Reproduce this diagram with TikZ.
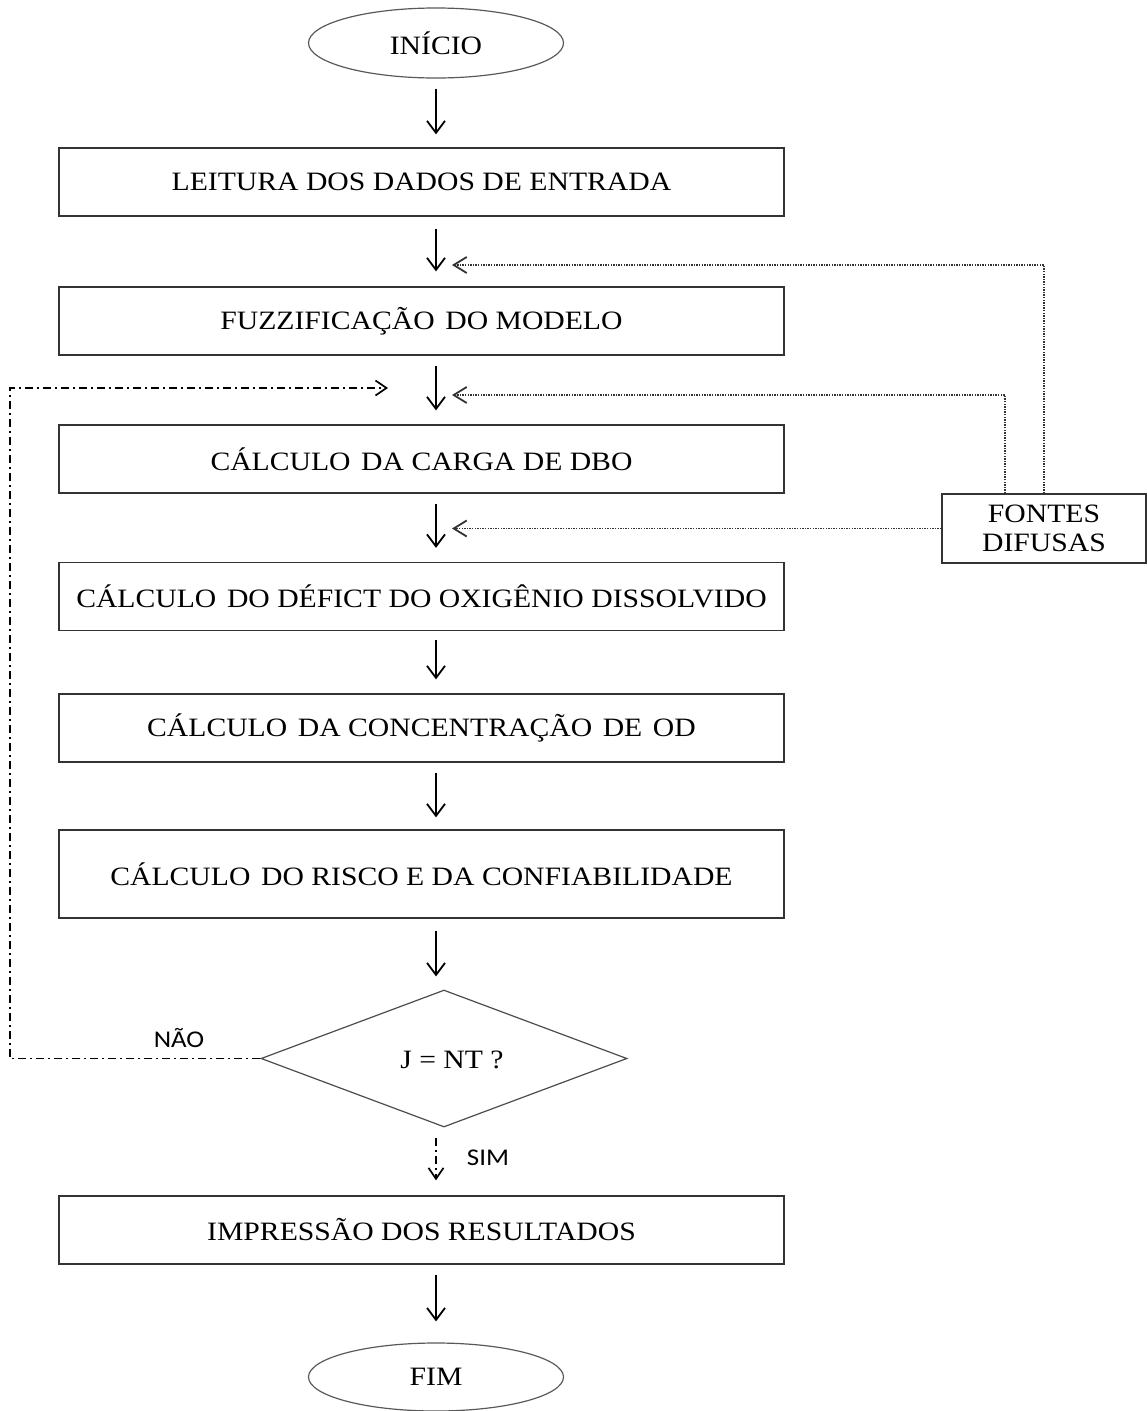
\documentclass[tikz,border=0pt]{standalone}
\usepackage{fontspec}
\setmainfont{Liberation Serif}[FakeStretch=1.12]
\newfontfamily\labelfont{Carlito}[FakeStretch=1.12]
\usetikzlibrary{arrows.meta,shapes.geometric,calc}
\newcommand{\xsp}{\hspace{0.12em}}
\begin{document}
\begin{tikzpicture}[x=1pt,y=-1pt,
  font=\fontsize{26.5}{31}\selectfont,
  boxst/.style={draw=black!80, line width=1.3pt, minimum width=725pt, minimum height=68pt, inner sep=0pt},
  termst/.style={ellipse, draw=black!65, line width=1.2pt, minimum width=255pt, minimum height=70pt, inner sep=0pt},
  decst/.style={diamond, draw=black!70, line width=1.2pt, minimum width=366pt, minimum height=137pt, inner sep=0pt},
  fontst/.style={draw=black!80, line width=1.3pt, minimum width=204pt, minimum height=69pt, inner sep=0pt, align=center},
  flow/.style={draw=black, line width=1.8pt, -{Straight Barb[length=12pt,width=18pt]}},
  dotflow/.style={draw=black!80, line width=1.1pt, dash pattern=on 1.3pt off 1.3pt, -{Straight Barb[length=13pt,width=16pt,line width=1.8pt]}},
  ddflow/.style={draw=black, line width=1.5pt, dash pattern=on 8pt off 4pt on 2pt off 4pt, -{Straight Barb[length=11pt,width=15pt,line width=1.7pt]}},
  lbl/.style={font=\labelfont\fontsize{24}{26}\selectfont, inner sep=0pt}
]
\useasboundingbox (0,0) rectangle (1146,1411);

% nodes
\node[termst] (start) at (436,43) {INÍCIO};
\node[boxst] (b1) at (421.5,182) {LEITURA DOS DADOS DE ENTRADA};
\node[boxst] (b2) at (421.5,321) {FUZZIFICAÇÃO \xsp DO MODELO};
\node[boxst] (b3) at (421.5,459) {CÁLCULO \xsp DA CARGA DE DBO};
\node[boxst] (b4) at (421.5,596.5) {CÁLCULO \xsp DO DÉFICT DO OXIGÊNIO DISSOLVIDO};
\node[boxst] (b5) at (421.5,728) {CÁLCULO \xsp DA CONCENTRAÇÃO \xsp DE \xsp OD};
\node[boxst, minimum height=88pt] (b6) at (421.5,874) {CÁLCULO \xsp DO RISCO E DA CONFIABILIDADE};
\node[decst] (dec) at (444,1058.5) {};
\node[inner sep=0pt] (dectext) at (452,1060) {J = NT ?};
\node[boxst] (b7) at (421.5,1230) {IMPRESSÃO DOS RESULTADOS};
\node[termst, minimum height=68pt] (fim) at (436,1377) {FIM};
\node[fontst] (fontes) at (1044,528.5) {FONTES\\[-2pt]DIFUSAS};

\node[lbl] (nao) at (179,1038) {NÃO};
\node[lbl] (sim) at (488,1158) {SIM};

% coordinates for free ends
\coordinate (in2) at (452,265);
\coordinate (in3) at (452,395);
\coordinate (in4) at (452,528.5);
\coordinate (lc) at (10,388);
\coordinate (loopin) at (388,388);

% main flow
\draw[flow, shorten <=10pt, shorten >=13pt] (start.south) -- (b1.north -| start.south);
\draw[flow, shorten <=12pt, shorten >=15pt] (b1.south -| start.south) -- (b2.north -| start.south);
\draw[flow, shorten <=10pt, shorten >=14pt] (b2.south -| start.south) -- (b3.north -| start.south);
\draw[flow, shorten <=10pt, shorten >=14pt] (b3.south -| start.south) -- (b4.north -| start.south);
\draw[flow, shorten <=9pt, shorten >=14pt] (b4.south -| start.south) -- (b5.north -| start.south);
\draw[flow, shorten <=10pt, shorten >=12pt] (b5.south -| start.south) -- (b6.north -| start.south);
\draw[flow, shorten <=12pt, shorten >=13pt] (b6.south -| start.south) -- (dec.north -| start.south);
\draw[ddflow, shorten <=10pt, shorten >=15pt] (dec.south -| start.south) -- (b7.north -| start.south);
\draw[flow, shorten <=10pt, shorten >=21pt] (b7.south -| start.south) -- (fim.north);

% fontes difusas
\draw[dotflow] (fontes.north) |- (in2);
\draw[dotflow] ($(fontes.north)+(-39,0)$) |- (in3);
\draw[dotflow] (fontes.west) -- (in4);

% loop back
\draw[ddflow] (dec.west) -| (lc) -- (loopin);
\end{tikzpicture}
\end{document}
